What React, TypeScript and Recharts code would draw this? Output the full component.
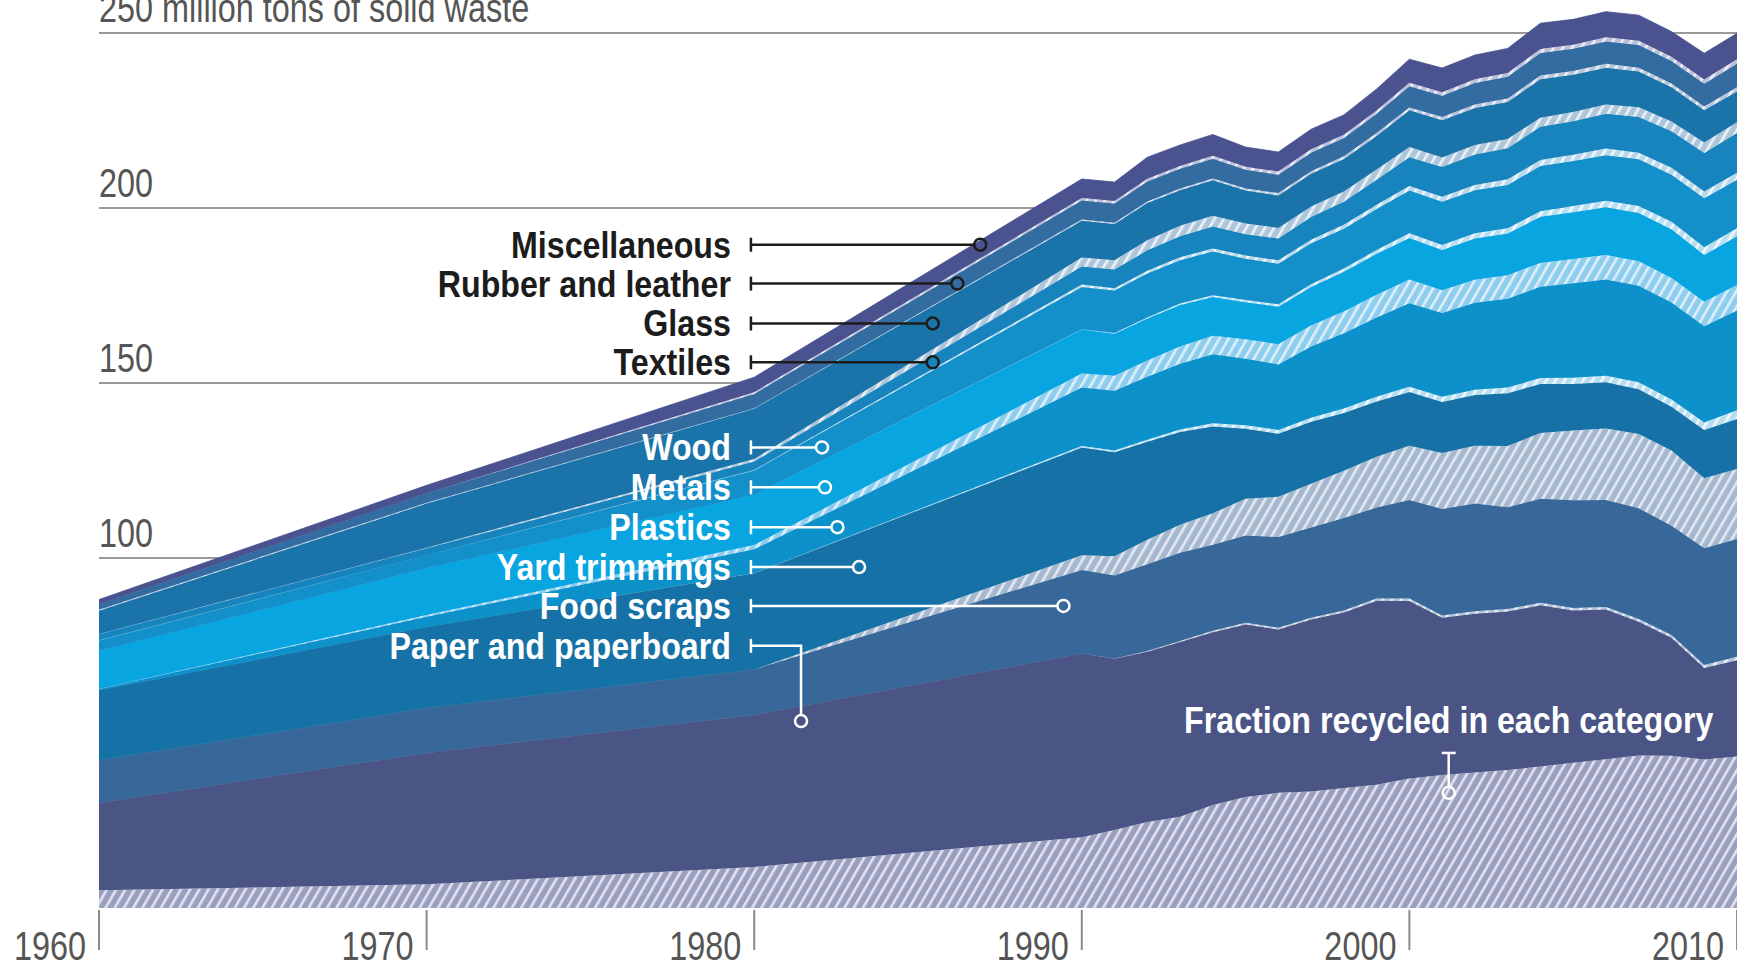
import React from 'react';
import { AreaChart, Area, XAxis, YAxis, CartesianGrid, ReferenceLine } from 'recharts';

const SANS = "'Liberation Sans', Arial, sans-serif";

const years = [1960, 1970, 1980, 1990, 1991, 1992, 1993, 1994, 1995, 1996, 1997, 1998, 1999, 2000, 2001, 2002, 2003, 2004, 2005, 2006, 2007, 2008, 2009, 2010];

// million tons generated / recycled
const paperTotal = [29.99, 44.31, 55.16, 72.7, 71.2, 73.2, 76.0, 78.8, 81.0, 79.6, 82.4, 84.4, 87.8, 87.7, 82.9, 84.1, 84.7, 86.5, 85.0, 85.3, 81.8, 77.2, 68.6, 70.8];
const paperRecycled = [5.08, 6.77, 11.74, 20.2, 22.3, 24.6, 26.1, 29.4, 31.7, 32.9, 33.3, 34.3, 35.2, 37.0, 38.0, 38.7, 39.4, 40.4, 41.5, 42.5, 43.6, 43.5, 42.4, 43.3];
const foodTotal = [12.2, 12.8, 13.0, 23.9, 23.8, 25.0, 25.5, 25.0, 25.4, 26.4, 26.3, 27.0, 26.6, 28.9, 31.1, 31.5, 29.8, 30.4, 31.5, 31.3, 32.4, 32.0, 34.2, 34.6];
const foodRecycled = [0, 0, 0, 0, 0.1, 0.2, 0.3, 0.4, 0.5, 0.5, 0.5, 0.6, 0.6, 0.7, 0.7, 0.7, 0.7, 0.7, 0.7, 0.7, 0.8, 0.8, 0.8, 1.0];
const yardTotal = [20.0, 23.2, 27.5, 35.0, 35.2, 35.0, 34.5, 33.8, 30.5, 29.5, 30.2, 30.0, 30.3, 30.8, 30.6, 31.0, 32.6, 32.8, 33.2, 33.6, 34.0, 34.0, 33.8, 34.3];
const yardRecycled = [0, 0, 0, 4.2, 5.5, 7.0, 8.0, 9.0, 10.5, 11.5, 12.5, 13.5, 14.5, 15.5, 16.0, 16.5, 17.5, 18.8, 19.9, 20.4, 21.2, 21.5, 20.0, 20.0];
const plasticsTotal = [0.39, 2.9, 6.83, 17.1, 17.6, 18.6, 19.5, 20.6, 20.0, 19.8, 21.5, 22.8, 24.0, 25.4, 25.4, 26.3, 27.0, 27.8, 28.8, 29.4, 29.6, 29.8, 29.6, 31.0];
const plasticsRecycled = [0, 0, 0.02, 0.4, 0.5, 0.6, 0.7, 0.9, 1.0, 1.1, 1.2, 1.3, 1.4, 1.5, 1.5, 1.5, 1.6, 1.7, 1.8, 1.9, 2.0, 2.1, 2.1, 2.5];
const metalsTotal = [10.82, 13.83, 15.51, 16.55, 16.3, 16.6, 16.8, 16.4, 16.2, 16.5, 17.0, 17.6, 18.2, 18.6, 18.0, 18.4, 18.6, 20.0, 20.3, 20.6, 20.8, 20.9, 20.4, 21.2];
const metalsRecycled = [0.05, 0.5, 1.2, 4.0, 4.3, 4.6, 4.9, 5.3, 5.6, 5.8, 6.0, 6.2, 6.5, 6.8, 6.5, 6.6, 6.7, 6.8, 6.9, 7.0, 7.0, 7.0, 7.0, 7.3];
const woodTotal = [3.03, 3.72, 7.01, 12.2, 12.3, 12.9, 12.8, 13.0, 12.4, 12.3, 12.5, 12.3, 12.8, 13.6, 13.8, 13.8, 13.9, 14.5, 14.6, 14.9, 15.3, 15.6, 16.2, 16.2];
const woodRecycled = [0, 0, 0, 0.13, 0.2, 0.3, 0.4, 0.5, 0.6, 0.7, 0.8, 0.9, 1.1, 1.4, 1.4, 1.5, 1.5, 1.6, 1.8, 1.9, 2.0, 2.2, 2.2, 2.3];
const textilesTotal = [1.76, 2.04, 2.53, 5.8, 6.0, 6.6, 6.8, 7.1, 7.0, 7.2, 7.5, 7.7, 8.4, 9.5, 9.9, 10.2, 10.5, 11.2, 11.4, 11.8, 12.1, 12.4, 12.9, 13.3];
const textilesRecycled = [0.05, 0.06, 0.16, 0.66, 0.7, 0.75, 0.8, 0.85, 0.9, 0.95, 1.0, 1.1, 1.2, 1.3, 1.4, 1.5, 1.6, 1.7, 1.8, 1.9, 1.9, 2.0, 1.9, 2.0];
const glassTotal = [6.72, 12.74, 15.13, 13.1, 13.0, 13.5, 13.2, 13.2, 12.5, 12.3, 12.4, 12.2, 12.5, 13.4, 13.4, 13.3, 13.2, 13.6, 13.3, 13.2, 13.0, 12.6, 12.2, 11.9];
const glassRecycled = [0.1, 0.16, 0.75, 2.6, 2.7, 2.9, 3.0, 3.1, 3.1, 3.0, 3.0, 2.9, 2.9, 2.9, 2.7, 2.7, 2.6, 2.6, 2.6, 2.7, 2.8, 2.8, 3.0, 3.1];
const rubberTotal = [1.84, 2.97, 4.2, 5.8, 5.9, 6.2, 6.1, 6.2, 5.9, 5.9, 6.0, 6.0, 6.3, 6.9, 7.0, 7.1, 7.2, 7.5, 7.4, 7.5, 7.6, 7.5, 7.6, 7.9];
const rubberRecycled = [0.33, 0.25, 0.13, 0.37, 0.4, 0.45, 0.5, 0.55, 0.6, 0.65, 0.7, 0.75, 0.8, 0.82, 0.9, 0.95, 1.0, 1.05, 1.07, 1.1, 1.1, 1.06, 1.07, 1.17];
const miscTotal = [1.37, 2.25, 4.77, 6.15, 6.1, 6.9, 6.8, 6.9, 6.5, 6.5, 6.7, 6.6, 7.1, 7.7, 7.9, 8.0, 8.1, 8.5, 8.4, 8.5, 8.5, 8.4, 8.7, 8.7];
const miscRecycled = [0, 0, 0.5, 0.68, 0.7, 0.75, 0.8, 0.85, 0.9, 0.9, 0.95, 0.95, 0.98, 0.98, 1.0, 1.05, 1.1, 1.15, 1.17, 1.2, 1.2, 1.2, 1.24, 1.31];

const xTicks = [1960, 1970, 1980, 1990, 2000, 2010];
const yTicks = [100, 150, 200, 250];
const yTickLabels = ['100', '150', '200', '250 million tons of solid waste'];

const categories = [
  { key: 'paper', total: paperTotal, recycled: paperRecycled, color: '#4a5586', hatch: '#9a9ebf', stripe: '#e2e3ee' },
  { key: 'food', total: foodTotal, recycled: foodRecycled, color: '#386899', hatch: '#b4c3da', stripe: '#eef2f7' },
  { key: 'yard', total: yardTotal, recycled: yardRecycled, color: '#1672a6', hatch: '#a6b8cf', stripe: '#e3e9f1' },
  { key: 'plastics', total: plasticsTotal, recycled: plasticsRecycled, color: '#0c91cb', hatch: '#b6def3', stripe: '#f1f9fd' },
  { key: 'metals', total: metalsTotal, recycled: metalsRecycled, color: '#08a5e1', hatch: '#8fcdee', stripe: '#dcf0fa' },
  { key: 'wood', total: woodTotal, recycled: woodRecycled, color: '#1390ca', hatch: '#b8def2', stripe: '#f1f9fd' },
  { key: 'textiles', total: textilesTotal, recycled: textilesRecycled, color: '#1884bd', hatch: '#b8d8ec', stripe: '#f1f7fb' },
  { key: 'glass', total: glassTotal, recycled: glassRecycled, color: '#1a74a9', hatch: '#aec6dc', stripe: '#eaf1f7' },
  { key: 'rubber', total: rubberTotal, recycled: rubberRecycled, color: '#326ca0', hatch: '#b7c6dc', stripe: '#eef2f8' },
  { key: 'misc', total: miscTotal, recycled: miscRecycled, color: '#4a5290', hatch: '#bcc0da', stripe: '#eff0f7' },
];

const rows = years.map((year, i) => {
  const row: Record<string, number> = { year };
  categories.forEach((c) => {
    row[c.key + 'Rec'] = c.recycled[i];
    row[c.key + 'Rest'] = +(c.total[i] - c.recycled[i]).toFixed(3);
  });
  return row;
});

// annotation leaders, in data units
const leaderStart = 1979.9;
const leaders = [
  { label: 'Miscellaneous', y: 189.5, end: 1986.9, dark: true },
  { label: 'Rubber and leather', y: 178.4, end: 1986.2, dark: true },
  { label: 'Glass', y: 167.0, end: 1985.45, dark: true },
  { label: 'Textiles', y: 155.9, end: 1985.45, dark: true },
  { label: 'Wood', y: 131.6, end: 1982.07, dark: false },
  { label: 'Metals', y: 120.2, end: 1982.16, dark: false },
  { label: 'Plastics', y: 108.8, end: 1982.54, dark: false },
  { label: 'Yard trimmings', y: 97.4, end: 1983.2, dark: false },
  { label: 'Food scraps', y: 86.3, end: 1989.44, dark: false },
  { label: 'Paper and paperboard', y: 74.9, end: 1981.43, endY: 53.4, dark: false },
];
const fractionNote = { label: 'Fraction recycled in each category', x: 2001.2, top: 44.3, bottom: 32.9 };

// condensed look: Liberation Sans squeezed horizontally
const NText = (props: any) => {
  const { x, y, sx = 0.81, anchor = 'start', size = 40, weight = 'normal', fill = '#555', children } = props;
  return (
    <text
      transform={`translate(${x},${y}) scale(${sx},1)`}
      textAnchor={anchor}
      fontFamily={SANS}
      fontSize={size}
      fontWeight={weight}
      fill={fill}
    >
      {children}
    </text>
  );
};

const renderLeader = (p: any, l: any) => {
  const { x1, y1, x2, y2 } = p;
  const col = l.dark ? '#1c1c1c' : '#ffffff';
  const elbow = l.endY !== undefined;
  const d = elbow ? `M${x1},${y1} H${x2} V${y2 - 6}` : `M${x1},${y1} H${x2 - 6}`;
  return (
    <g>
      <path d={d} fill="none" stroke={col} strokeWidth={2.5} />
      <line x1={x1} x2={x1} y1={y1 - 7} y2={y1 + 7} stroke={col} strokeWidth={2.5} />
      <circle cx={x2} cy={y2} r={6} fill="none" stroke={col} strokeWidth={2.5} />
      <NText x={x1 - 20} y={y1 + 13} anchor="end" size={37} sx={0.87} weight="bold" fill={col}>
        {l.label}
      </NText>
    </g>
  );
};

const renderFraction = (p: any) => {
  const { x1, y1, y2 } = p;
  const top = Math.min(y1, y2);
  const bot = Math.max(y1, y2);
  return (
    <g>
      <line x1={x1 - 7} x2={x1 + 7} y1={top} y2={top} stroke="#fff" strokeWidth={2.5} />
      <line x1={x1} x2={x1} y1={top} y2={bot - 6} stroke="#fff" strokeWidth={2.5} />
      <circle cx={x1} cy={bot} r={6} fill="none" stroke="#fff" strokeWidth={2.5} />
      <NText x={x1} y={top - 20} anchor="middle" size={37} sx={0.87} weight="bold" fill="#fff">
        {fractionNote.label}
      </NText>
    </g>
  );
};

const YearTick = (props: any) => {
  const { x, y, payload } = props;
  return (
    <g>
      <line x1={x} x2={x} y1={y + 2} y2={y + 42} stroke="#8c8c8c" strokeWidth={2} />
      <NText x={x - 13} y={y + 52} anchor="end">
        {payload.value}
      </NText>
    </g>
  );
};

export default function App() {
  return (
    <div style={{ position: 'absolute', left: 0, top: 0, background: '#fff' }}>
      <AreaChart width={1737} height={969} data={rows} margin={{ top: 3, right: 0, bottom: 0, left: 99 }}>
        <defs>
          {categories.map((c) => (
            <pattern key={c.key} id={`hatch-${c.key}`} patternUnits="userSpaceOnUse" width={8} height={8} patternTransform="rotate(30)">
              <rect width={8} height={8} fill={c.hatch} />
              <rect width={2.6} height={8} fill={c.stripe} />
            </pattern>
          ))}
        </defs>
        <CartesianGrid vertical={false} horizontalValues={yTicks} stroke="#9a9a9a" strokeWidth={2} />
        <XAxis
          dataKey="year"
          type="number"
          domain={[1960, 2010]}
          ticks={xTicks}
          allowDataOverflow
          axisLine={false}
          tickLine={false}
          tickSize={0}
          tickMargin={0}
          height={61}
          tick={<YearTick />}
          interval={0}
        />
        <YAxis hide type="number" domain={[0, 258.57]} ticks={yTicks} allowDataOverflow />
        {categories.flatMap((c) => [
          <Area
            key={c.key + 'Rec'}
            dataKey={c.key + 'Rec'}
            stackId="w"
            type="linear"
            stroke="none"
            fill={`url(#hatch-${c.key})`}
            fillOpacity={1}
            dot={false}
            activeDot={false}
            isAnimationActive={false}
          />,
          <Area
            key={c.key + 'Rest'}
            dataKey={c.key + 'Rest'}
            stackId="w"
            type="linear"
            stroke={c.color}
            strokeWidth={0.8}
            fill={c.color}
            fillOpacity={1}
            dot={false}
            activeDot={false}
            isAnimationActive={false}
          />,
        ])}
        {yTicks.map((v, i) => (
          <ReferenceLine
            key={'yl' + v}
            y={v}
            stroke="none"
            shape={(p: any) => (
              <NText x={p.x1} y={p.y1 - 11}>
                {yTickLabels[i]}
              </NText>
            )}
          />
        ))}
        {leaders.map((l) => (
          <ReferenceLine
            key={l.label}
            segment={[
              { x: leaderStart, y: l.y },
              { x: l.end, y: l.endY !== undefined ? l.endY : l.y },
            ]}
            shape={(p: any) => renderLeader(p, l)}
          />
        ))}
        <ReferenceLine
          segment={[
            { x: fractionNote.x, y: fractionNote.top },
            { x: fractionNote.x, y: fractionNote.bottom },
          ]}
          shape={renderFraction}
        />
      </AreaChart>
    </div>
  );
}
